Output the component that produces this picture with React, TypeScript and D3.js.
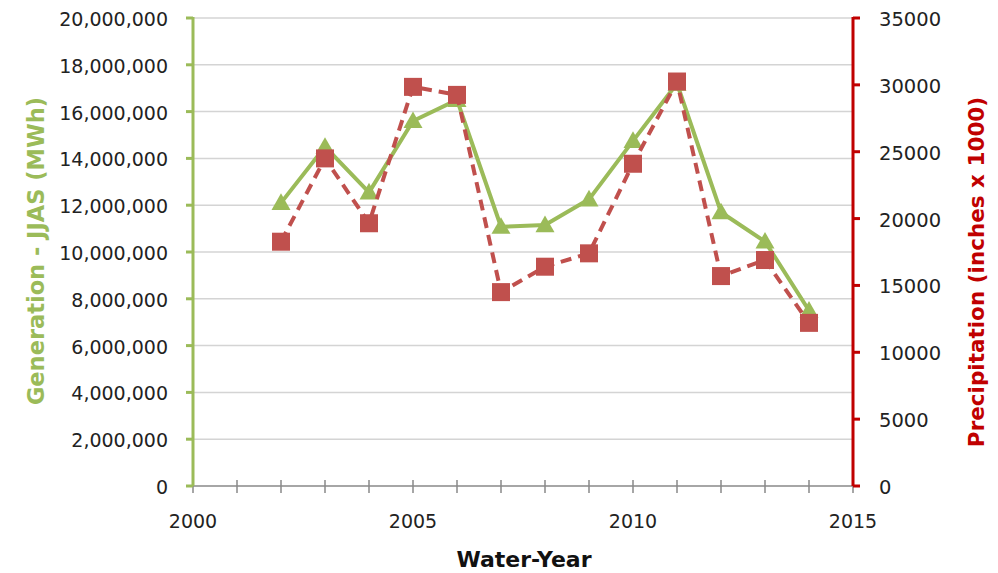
import React from "react";
import * as d3 from "d3";

const years = [2002, 2003, 2004, 2005, 2006, 2007, 2008, 2009, 2010, 2011, 2012, 2013, 2014];
const generation = [12100000, 14500000, 12550000, 15600000, 16500000, 11080000, 11150000, 12250000, 14750000, 17200000, 11700000, 10450000, 7500000];
const precipitation = [18270, 24500, 19650, 29850, 29250, 14500, 16400, 17400, 24100, 30250, 15700, 16900, 12200];
const leftTicks = [0, 2000000, 4000000, 6000000, 8000000, 10000000, 12000000, 14000000, 16000000, 18000000, 20000000];
const rightTicks = [0, 5000, 10000, 15000, 20000, 25000, 30000, 35000];
const xTicks = [2000, 2005, 2010, 2015];
const xMinorTicks = d3.range(2000, 2016);

export default function App() {
  const W = 998, H = 573;
  const left = 193, right = 853, top = 18, bottom = 486;
  const x = d3.scaleLinear().domain([2000, 2015]).range([left, right]);
  const yL = d3.scaleLinear().domain([0, 20000000]).range([bottom, top]);
  const yR = d3.scaleLinear().domain([0, 35000]).range([bottom, top]);
  const fmt = d3.format(",");
  const green = "#9BBB59";
  const red = "#C0504D";
  const font = "DejaVu Sans, sans-serif";

  const genLine = d3.line<number>().x((_, i) => x(years[i])).y((d) => yL(d))(generation) || "";
  const preLine = d3.line<number>().x((_, i) => x(years[i])).y((d) => yR(d))(precipitation) || "";

  return (
    <svg width={W} height={H} style={{ position: "absolute", left: 0, top: 0, background: "#fff" }}>
      {leftTicks.filter((t) => t > 0).map((t) => (
        <line key={"g" + t} x1={left} x2={right} y1={yL(t)} y2={yL(t)} stroke="#D4D4D4" strokeWidth={1.5} />
      ))}
      <line x1={left} x2={right} y1={bottom} y2={bottom} stroke="#888" strokeWidth={1.5} />
      {xMinorTicks.map((t) => (
        <line key={"xt" + t} x1={x(t)} x2={x(t)} y1={bottom - 6} y2={bottom + 7} stroke="#888" strokeWidth={1.5} />
      ))}
      {xTicks.map((t) => (
        <text key={"xl" + t} x={x(t)} y={bottom + 42} textAnchor="middle" fontFamily={font} fontSize={19} fill="#222">{t}</text>
      ))}
      <text x={524} y={567} textAnchor="middle" fontFamily={font} fontSize={22} fontWeight="bold" fill="#111">Water-Year</text>

      <line x1={left} x2={left} y1={top - 1} y2={bottom} stroke={green} strokeWidth={3} />
      {leftTicks.map((t) => (
        <g key={"lt" + t}>
          <line x1={left - 7} x2={left} y1={yL(t)} y2={yL(t)} stroke={green} strokeWidth={3} />
          <text x={168} y={yL(t) + 8} textAnchor="end" fontFamily={font} fontSize={19} fill="#222">{fmt(t)}</text>
        </g>
      ))}
      <text transform={`translate(44,251) rotate(-90)`} textAnchor="middle" fontFamily={font} fontSize={22.5} fontWeight="bold" fill={green}>Generation  - JJAS (MWh)</text>

      <line x1={right} x2={right} y1={top - 1} y2={bottom} stroke="#C00000" strokeWidth={3} />
      {rightTicks.map((t) => (
        <g key={"rt" + t}>
          <line x1={right} x2={right + 7} y1={yR(t)} y2={yR(t)} stroke="#C00000" strokeWidth={3} />
          <text x={879} y={yR(t) + 8} textAnchor="start" fontFamily={font} fontSize={19.5} fill="#222">{t}</text>
        </g>
      ))}
      <text transform={`translate(984,272) rotate(-90)`} textAnchor="middle" fontFamily={font} fontSize={21.5} fontWeight="bold" fill="#C00000">Precipitation (inches x 1000)</text>

      <path d={genLine} fill="none" stroke={green} strokeWidth={4} strokeLinejoin="round" />
      {generation.map((v, i) => {
        const cx = x(years[i]), cy = yL(v);
        const s = 9.5;
        return <path key={"gm" + i} d={`M${cx},${cy - s} L${cx + s},${cy + s * 0.75} L${cx - s},${cy + s * 0.75} Z`} fill={green} />;
      })}

      <path d={preLine} fill="none" stroke={red} strokeWidth={4} strokeDasharray="11,7" />
      {precipitation.map((v, i) => {
        const cx = x(years[i]), cy = yR(v);
        return <rect key={"pm" + i} x={cx - 9} y={cy - 9} width={18} height={18} fill={red} />;
      })}
    </svg>
  );
}
